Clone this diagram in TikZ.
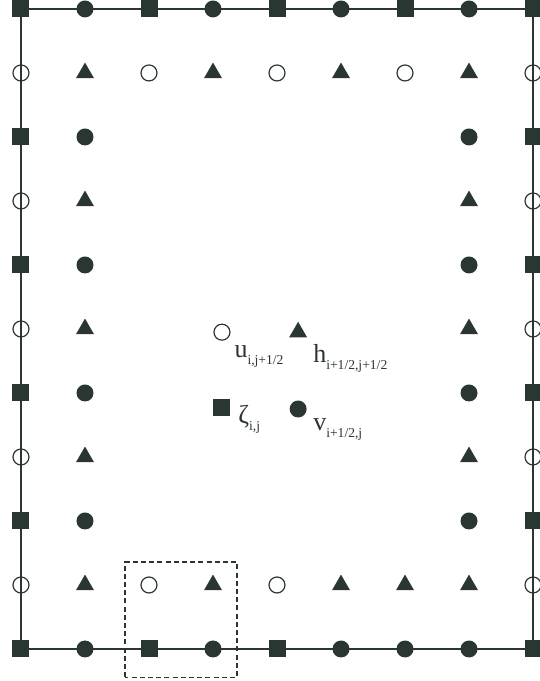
\documentclass[tikz,border=0pt]{standalone}
\usepackage{fontspec}
\setmainfont{Liberation Serif}
\usetikzlibrary{positioning, shapes.geometric}
\definecolor{ink}{RGB}{42,54,50}
\newcommand{\lowsub}[1]{\raisebox{-3.5pt}{\fontsize{6.8}{7}\selectfont #1}}

\begin{document}
\begin{tikzpicture}[x=32pt, y=32pt,
    sq/.style={rectangle, fill=ink, minimum size=8.5pt, inner sep=0pt},
    dot/.style={circle, fill=ink, minimum size=8.5pt, inner sep=0pt},
    ring/.style={circle, draw=ink, line width=0.6pt, minimum size=8pt, inner sep=0pt},
    tri/.style={regular polygon, regular polygon sides=3, fill=ink, minimum size=10.4pt, inner sep=0pt},
    lbl/.style={anchor=base west, inner sep=0pt, text=ink, font=\fontsize{13}{14}\selectfont}]
  \useasboundingbox (-0.328,-0.5) rectangle (8.094,10.14);

  % top and bottom rows, and the rows next to them
  \foreach \c/\s in {0/sq,1/dot,2/sq,3/dot,4/sq,5/dot,6/sq,7/dot,8/sq}
    \node[\s] (p-\c-10) at (\c,10) {};
  \foreach \c/\s in {0/ring,1/tri,2/ring,3/tri,4/ring,5/tri,6/ring,7/tri,8/ring}
    \node[\s] (p-\c-9) at (\c,9) {};
  \foreach \c/\s in {0/ring,1/tri,2/ring,3/tri,4/ring,5/tri,6/tri,7/tri,8/ring}
    \node[\s] (p-\c-1) at (\c,1) {};
  \foreach \c/\s in {0/sq,1/dot,2/sq,3/dot,4/sq,5/dot,6/dot,7/dot,8/sq}
    \node[\s] (p-\c-0) at (\c,0) {};

  % the sides
  \foreach \r/\a/\b in {2/sq/dot,3/ring/tri,4/sq/dot,5/ring/tri,6/sq/dot,7/ring/tri,8/sq/dot} {
    \node[\a] (p-0-\r) at (0,\r) {};
    \node[\b] (p-1-\r) at (1,\r) {};
    \node[\b] (p-7-\r) at (7,\r) {};
    \node[\a] (p-8-\r) at (8,\r) {};
  }

  % boundary
  \draw[ink, line width=0.8pt] (p-0-0.center) -- (p-8-0.center) -- (p-8-10.center)
    -- (p-0-10.center) -- cycle;

  % one cell
  \draw[ink, line width=0.6pt, dash pattern=on 2.5pt off 1.6pt] (1.625,-0.44) rectangle (3.375,1.36);

  % legend
  \node[ring] (u) at (3.14,4.95) {};
  \node[tri] (h) at (4.33,4.95) {};
  \node[sq] (zeta) at (3.14,3.77) {};
  \node[dot] (v) at (4.33,3.75) {};
  \node[lbl] (u-lbl) at (3.33,4.56) {u\lowsub{i,j+1/2}};
  \node[lbl] (h-lbl) at (4.56,4.48) {h\lowsub{i+1/2,j+1/2}};
  \node[lbl] (zeta-lbl) at (3.39,3.52) {ζ\lowsub{i,j}};
  \node[lbl] (v-lbl) at (4.56,3.41) {v\lowsub{i+1/2,j}};
\end{tikzpicture}
\end{document}
